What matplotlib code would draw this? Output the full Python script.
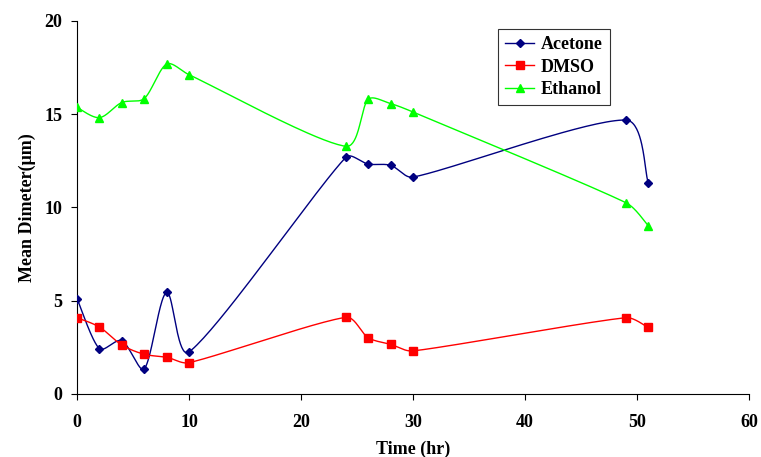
import numpy as np
import matplotlib
matplotlib.use("Agg")
import matplotlib.pyplot as plt
from matplotlib.lines import Line2D

# ---------------------------------------------------------------------------
# Data
# ---------------------------------------------------------------------------
time_hr = [0, 2, 4, 6, 8, 10, 24, 26, 28, 30, 49, 51]

acetone = [5.12, 2.43, 2.86, 1.34, 5.45, 2.25, 12.69, 12.33, 12.26, 11.63, 14.69, 11.33]
dmso    = [4.09, 3.59, 2.63, 2.13, 1.97, 1.68, 4.11, 3.02, 2.66, 2.31, 4.09, 3.57]
ethanol = [15.37, 14.82, 15.63, 15.84, 17.69, 17.12, 13.28, 15.80, 15.57, 15.12, 10.26, 9.03]

x_ticks = [0, 10, 20, 30, 40, 50, 60]
y_ticks = [0, 5, 10, 15, 20]

plt.rcParams["font.family"] = ["Liberation Serif", "DejaVu Serif"]
plt.rcParams["font.weight"] = "bold"


def excel_smooth(xs, ys, sx, sy, n=40):
    """Bezier smoothing (spreadsheet style), done in screen-ish units.
    Tangent = neighbour difference / 6, damped when the next segment is short."""
    P = np.column_stack([np.asarray(xs, float) * sx, np.asarray(ys, float) * sy])
    t = np.linspace(0, 1, n)[:, None]
    pieces = []
    for i in range(len(P) - 1):
        p0 = P[i - 1] if i > 0 else P[i]
        p1, p2 = P[i], P[i + 1]
        p3 = P[i + 2] if i + 2 < len(P) else P[i + 1]
        d01 = np.linalg.norm(p1 - p0)
        d12 = np.linalg.norm(p2 - p1)
        d23 = np.linalg.norm(p3 - p2)
        f1 = min(1.0, 2 * d12 / (d01 + d12)) if d01 + d12 > 0 else 0
        f2 = min(1.0, 2 * d12 / (d12 + d23)) if d12 + d23 > 0 else 0
        c1 = p1 + (p2 - p0) * f1 / 6.0
        c2 = p2 - (p3 - p1) * f2 / 6.0
        b = ((1 - t) ** 3) * p1 + 3 * ((1 - t) ** 2) * t * c1 \
            + 3 * (1 - t) * t ** 2 * c2 + t ** 3 * p2
        pieces.append(b if i == 0 else b[1:])
    curve = np.vstack(pieces)
    return curve[:, 0] / sx, curve[:, 1] / sy


fig = plt.figure(figsize=(7.61, 4.57), dpi=100)
ax = fig.add_axes([77 / 761, 63 / 457, 672 / 761, 373 / 457])

# pixels per data unit, used only to shape the smoothing
SX, SY = 11.2, 18.65

series = [
    ("Acetone", acetone, "#000080", "D", 4.3),
    ("DMSO", dmso, "#FF0000", "s", 5.2),
    ("Ethanol", ethanol, "#00FF00", "^", 5.8),
]

handles = []
for name, vals, col, mk, ms in series:
    cx, cy = excel_smooth(time_hr, vals, SX, SY)
    ax.plot(cx, cy, color=col, lw=1.0, zorder=2)
    ax.plot(time_hr, vals, ls="none", marker=mk, ms=ms, color=col,
            markeredgecolor=col, zorder=3)
    handles.append(Line2D([0], [0], color=col, lw=1.0, marker=mk, ms=ms,
                          markeredgecolor=col, label=name))

ax.set_xlim(0, 60)
ax.set_ylim(0, 20)
ax.set_xticks(x_ticks)
ax.set_yticks(y_ticks)
ax.tick_params(direction="out", length=4.5, width=0.8, labelsize=13)
ax.tick_params(axis="x", pad=10)
ax.tick_params(axis="y", pad=6)
for lab in ax.get_xticklabels() + ax.get_yticklabels():
    lab.set_fontweight("bold")

ax.spines["top"].set_visible(False)
ax.spines["right"].set_visible(False)
ax.spines["left"].set_linewidth(0.8)
ax.spines["bottom"].set_linewidth(0.8)

ax.set_xlabel("Time (hr)", fontsize=13, fontweight="bold", labelpad=7)
ax.set_ylabel("Mean Dimeter(\u03bcm)", fontsize=13, fontweight="bold", labelpad=6)

leg = fig.legend(handles=handles, loc="upper left",
                 bbox_to_anchor=(498 / 761, 1 - 29 / 457),
                 prop={"family": "Liberation Serif", "weight": "bold", "size": 13},
                 frameon=True, fancybox=False, edgecolor="black",
                 handlelength=1.6, handletextpad=0.35, labelspacing=0.3,
                 borderpad=0.4, borderaxespad=0)
leg.get_frame().set_linewidth(0.8)

fig.savefig("out.png", dpi=100)
